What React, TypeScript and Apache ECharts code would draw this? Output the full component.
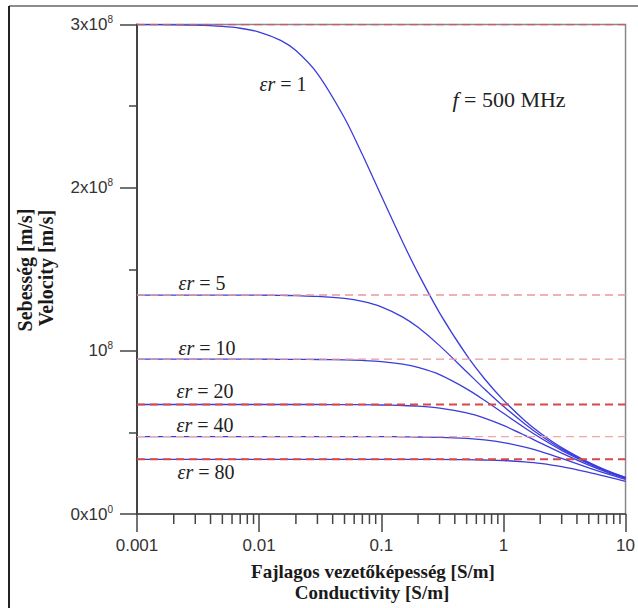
import React, { useEffect, useRef } from "react";
import * as echarts from "echarts";

// Conductivity samples [S/m]
const SIGMA = [0.001, 0.002, 0.003, 0.005, 0.007, 0.01, 0.015, 0.02, 0.03, 0.05, 0.07, 0.1, 0.15, 0.2, 0.3, 0.5, 0.7, 1, 1.5, 2, 3, 5, 7, 10];

// Velocity, in units of 1e8 m/s
const V_ER1 = [3.0, 2.998, 2.996, 2.988, 2.977, 2.954, 2.903, 2.84, 2.699, 2.427, 2.203, 1.95, 1.666, 1.476, 1.233, 0.973, 0.829, 0.698, 0.572, 0.497, 0.407, 0.316, 0.267, 0.224];
const V_ER5 = [1.342, 1.342, 1.342, 1.341, 1.341, 1.341, 1.34, 1.338, 1.334, 1.321, 1.303, 1.27, 1.207, 1.144, 1.032, 0.872, 0.766, 0.66, 0.552, 0.483, 0.399, 0.312, 0.265, 0.222];
const V_ER10 = [0.949, 0.949, 0.949, 0.949, 0.949, 0.949, 0.948, 0.948, 0.947, 0.945, 0.941, 0.934, 0.918, 0.898, 0.854, 0.767, 0.697, 0.617, 0.527, 0.467, 0.39, 0.308, 0.262, 0.221];
const V_ER20 = [0.671, 0.671, 0.671, 0.671, 0.671, 0.671, 0.671, 0.671, 0.671, 0.67, 0.67, 0.668, 0.665, 0.661, 0.649, 0.62, 0.588, 0.543, 0.482, 0.436, 0.373, 0.299, 0.257, 0.218];
const V_ER40 = [0.474, 0.474, 0.474, 0.474, 0.474, 0.474, 0.474, 0.474, 0.474, 0.474, 0.474, 0.474, 0.473, 0.472, 0.47, 0.463, 0.454, 0.438, 0.41, 0.384, 0.341, 0.283, 0.247, 0.212];
const V_ER80 = [0.335, 0.335, 0.335, 0.335, 0.335, 0.335, 0.335, 0.335, 0.335, 0.335, 0.335, 0.335, 0.335, 0.335, 0.335, 0.333, 0.331, 0.328, 0.319, 0.31, 0.29, 0.255, 0.229, 0.2];

const EPS_R = [1, 5, 10, 20, 40, 80];
const CURVES = [V_ER1, V_ER5, V_ER10, V_ER20, V_ER40, V_ER80];
// Lossless velocity c/sqrt(er), 1e8 m/s (red dashed references)
const V_LOSSLESS = [3.0, 1.342, 0.949, 0.671, 0.474, 0.335];
const X_RANGE = [0.001, 10];

const X_TICK_LABELS = ["0.001", "0.01", "0.1", "1", "10"];
const X_MINOR_TICKS = [
  0.002, 0.003, 0.004, 0.005, 0.006, 0.007, 0.008, 0.009,
  0.02, 0.03, 0.04, 0.05, 0.06, 0.07, 0.08, 0.09,
  0.2, 0.3, 0.4, 0.5, 0.6, 0.7, 0.8, 0.9,
  2, 3, 4, 5, 6, 7, 8, 9,
];
const Y_TICK_MANT = ["0x10", "10", "2x10", "3x10"];
const Y_TICK_EXP = ["0", "8", "8", "8"];

const DASH_STYLES = [
  { color: "#c0606c", width: 1.6 },
  { color: "#e89a9a", width: 1.4 },
  { color: "#e89a9a", width: 1.4 },
  { color: "#d84848", width: 2 },
  { color: "#f0a8a0", width: 1.2 },
  { color: "#d84848", width: 2 },
];

const SERIF = "Liberation Serif";
const SANS = "Liberation Sans";

export default function App() {
  const ref = useRef<HTMLDivElement>(null);
  useEffect(() => {
    if (!ref.current) return;
    const chart = echarts.init(ref.current, undefined, { renderer: "svg" });

    const blueSeries = CURVES.map((vals, i) => ({
      type: "line",
      name: "er" + EPS_R[i],
      data: SIGMA.map((s, j) => [s, vals[j]]),
      showSymbol: false,
      smooth: 0.3,
      lineStyle: { color: "#3c3cdc", width: 1.3 },
      z: 3,
    }));
    const dashSeries = V_LOSSLESS.map((v, i) => ({
      type: "line",
      name: "ref" + EPS_R[i],
      data: X_RANGE.map((x) => [x, v]),
      showSymbol: false,
      lineStyle: { color: DASH_STYLES[i].color, width: DASH_STYLES[i].width, type: [8, 5] },
      z: 4,
    }));
    const minorTickSeries = {
      type: "custom",
      clip: false,
      silent: true,
      data: X_MINOR_TICKS.map((x) => [x, 0]),
      encode: { x: 0, y: 1 },
      renderItem: (_p: any, api: any) => {
        const p = api.coord([api.value(0), 0]);
        return {
          type: "line",
          shape: { x1: p[0], y1: p[1], x2: p[0], y2: p[1] + 10 },
          style: { stroke: "#444", lineWidth: 1.5 },
        };
      },
      z: 5,
    };

    const annot = (italic: string, rest: string, x: number, y: number, size = 20) => ({
      type: "text",
      x,
      y,
      style: {
        text: `{i|${italic}}{n|${rest}}`,
        fill: "#222",
        fontFamily: SERIF,
        fontSize: size,
        align: "center",
        verticalAlign: "middle",
        textAlign: "center",
        textVerticalAlign: "middle",
        rich: {
          i: { fontStyle: "italic", fontFamily: SERIF, fontSize: size, fill: "#222", color: "#222" },
          n: { fontFamily: SERIF, fontSize: size, fill: "#222", color: "#222" },
        },
      },
      z: 10,
    });
    const title = (txt: string, x: number, y: number, size: number, rot = 0) => ({
      type: "text",
      x,
      y,
      rotation: rot,
      style: {
        text: txt,
        fill: "#1a1a1a",
        fontFamily: SERIF,
        fontWeight: "bold",
        fontSize: size,
        align: "center",
        verticalAlign: "middle",
        textAlign: "center",
        textVerticalAlign: "middle",
      },
      z: 10,
    });

    const labelPos = [
      [283, 84], [202, 283], [207, 348], [205, 391], [205, 425], [206, 472],
    ];

    chart.setOption({
      animation: false,
      backgroundColor: "#ffffff",
      grid: {
        left: 137,
        right: 10,
        top: 24.5,
        bottom: 94,
        show: true,
        borderColor: "#888",
        borderWidth: 1.5,
        backgroundColor: "transparent",
      },
      xAxis: {
        type: "log",
        logBase: 10,
        min: X_RANGE[0],
        max: X_RANGE[1],
        axisLine: { show: true, onZero: false, lineStyle: { color: "#444", width: 1.5 } },
        axisTick: { show: true, length: 18, lineStyle: { color: "#444", width: 1.5 } },
        splitLine: { show: false },
        axisLabel: {
          margin: 23,
          color: "#333",
          fontSize: 17,
          fontFamily: SANS,
          showMinLabel: true,
          showMaxLabel: true,
          formatter: (v: number) => {
            const k = Math.round(Math.log10(v)) + 3;
            return X_TICK_LABELS[k] ?? "";
          },
        },
      },
      yAxis: {
        type: "value",
        min: 0,
        max: 3,
        interval: 1,
        axisLine: { show: true, lineStyle: { color: "#444", width: 2 } },
        axisTick: { show: true, length: 17, lineStyle: { color: "#444", width: 1.5 } },
        minorTick: { show: true, splitNumber: 2, length: 8, lineStyle: { color: "#444", width: 1.5 } },
        splitLine: { show: false },
        axisLabel: {
          margin: 24,
          color: "#333",
          formatter: (v: number) => {
            const k = Math.round(v);
            return `{b|${Y_TICK_MANT[k]}}{s|${Y_TICK_EXP[k]}}`;
          },
          rich: {
            b: { fontSize: 17, fontFamily: SANS, color: "#333", lineHeight: 20 },
            s: { fontSize: 10, fontFamily: SANS, color: "#333", verticalAlign: "top", lineHeight: 10 },
          },
        },
      },
      series: [...blueSeries, ...dashSeries, minorTickSeries],
      graphic: [
        { type: "line", shape: { x1: 9, y1: 6, x2: 638, y2: 6 }, style: { stroke: "#666", lineWidth: 1.5 }, z: 10 },
        { type: "line", shape: { x1: 9, y1: 6, x2: 9, y2: 608 }, style: { stroke: "#222", lineWidth: 2 }, z: 10 },
        ...EPS_R.map((e, i) => annot("εr", ` = ${e}`, labelPos[i][0], labelPos[i][1])),
        annot("f", " = 500 MHz", 509, 99, 22),
        title("Sebesség [m/s]", 25, 270, 20, Math.PI / 2),
        title("Velocity [m/s]", 46, 268, 20, Math.PI / 2),
        title("Fajlagos vezetőképesség [S/m]", 373, 571, 19),
        title("Conductivity [S/m]", 372, 592, 19),
      ],
    });
    return () => chart.dispose();
  }, []);
  return (
    <div
      ref={ref}
      style={{ position: "fixed", left: 0, top: 0, width: 638, height: 608, background: "#fff" }}
    />
  );
}
